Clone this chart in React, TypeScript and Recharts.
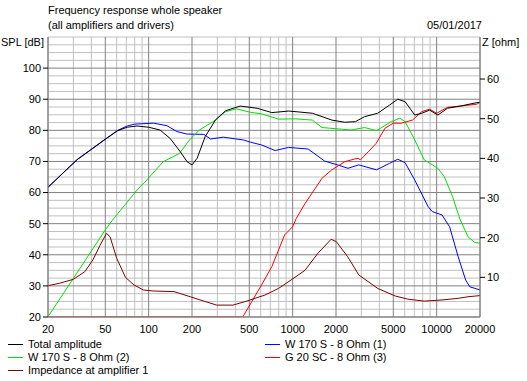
import React from 'react';
import { LineChart, Line, XAxis, YAxis, ReferenceLine, Legend } from 'recharts';

const FONT = "'Liberation Sans', Arial, sans-serif";
const FS = 11;

// ---- axis ticks / grid values ----
const freqTicks = [20, 50, 100, 200, 500, 1000, 2000, 5000, 10000, 20000];
const freqMinor = [30, 40, 60, 70, 80, 90, 300, 400, 600, 700, 800, 900, 3000, 4000, 6000, 7000, 8000, 9000];
const splTicks = [20, 30, 40, 50, 60, 70, 80, 90, 100];
const splMinor = [22.5, 25, 27.5, 32.5, 35, 37.5, 42.5, 45, 47.5, 52.5, 55, 57.5, 62.5, 65, 67.5, 72.5, 75, 77.5, 82.5, 85, 87.5, 92.5, 95, 97.5, 102.5, 105, 107.5, 110];
const zTicks = [10, 20, 30, 40, 50, 60];

// ---- series ----
const totalFreq = [20, 31.8, 50, 61, 71, 83, 100, 120, 141, 166, 185, 200, 217, 247, 291, 342, 432, 567, 717, 939, 1370, 1870, 2300, 2730, 3160, 3900, 4700, 5370, 6040, 7050, 7880, 8940, 10200, 11900, 14600, 19000, 20000];
const totalDb = [61.7, 70.5, 77.1, 79.9, 81.0, 81.4, 81.0, 80.1, 77.4, 73.1, 69.9, 68.9, 71.0, 78.0, 83.3, 86.3, 87.8, 87.1, 85.7, 86.2, 85.5, 83.3, 82.6, 82.8, 84.4, 85.5, 88.1, 90.0, 89.2, 84.9, 85.5, 86.5, 84.9, 87.1, 87.8, 88.9, 89.0];

const woofer1Freq = [20, 31.8, 50, 61, 71, 80, 108, 134, 157, 185, 242, 269, 330, 455, 509, 608, 756, 935, 1280, 1670, 2050, 2420, 2880, 3820, 4710, 5370, 6040, 7050, 8720, 9300, 10900, 12300, 14100, 15900, 17000, 20000];
const woofer1Db = [61.7, 70.6, 77.2, 80.0, 81.4, 82.0, 82.3, 81.5, 79.6, 78.8, 78.7, 77.2, 77.8, 76.9, 76.2, 75.3, 73.5, 74.5, 74.0, 70.1, 68.9, 67.8, 68.9, 67.3, 69.4, 70.7, 69.6, 64.0, 55.5, 53.9, 52.8, 49.0, 39.4, 31.9, 29.7, 28.7];

const woofer2Freq = [20, 30, 50, 56, 83, 97, 126, 164, 192, 225, 280, 342, 408, 509, 608, 797, 1040, 1370, 1600, 2550, 3160, 3820, 4850, 5550, 6040, 7050, 8200, 10200, 11300, 12900, 14500, 16500, 18300, 20000];
const woofer2Db = [20.1, 32.4, 48.0, 51.1, 60.8, 64.0, 69.9, 72.6, 76.9, 80.1, 82.8, 86.0, 86.9, 85.8, 85.3, 83.6, 83.7, 83.3, 80.9, 80.1, 80.9, 79.9, 82.8, 83.9, 82.8, 76.9, 70.5, 67.8, 65.1, 58.7, 51.5, 45.8, 44.0, 43.7];

const tweeterFreq = [20, 450, 608, 717, 880, 1000, 1060, 1220, 1600, 1870, 2300, 2700, 2850, 2950, 3350, 3800, 4380, 5000, 5700, 6800, 7880, 8940, 10000, 11900, 14600, 19000, 20000];
const tweeterDb = [20, 20, 30.3, 36.2, 46.4, 49.0, 51.7, 56.5, 64.6, 67.3, 69.9, 70.8, 71.0, 70.5, 73.1, 75.8, 80.7, 82.3, 82.3, 83.3, 86.0, 86.8, 85.5, 87.4, 87.8, 88.4, 89.0];

const impFreq = [20, 24, 30, 36, 41, 46, 51, 54, 60, 69, 79, 92, 108, 150, 195, 242, 297, 385, 480, 567, 640, 797, 1000, 1220, 1500, 1850, 2010, 2410, 2880, 3900, 5150, 6300, 8200, 10900, 14100, 16500, 20000];
const impOhm = [7.9, 8.5, 9.5, 11.4, 14.4, 18.1, 21.1, 20.2, 14.8, 10.0, 8.1, 6.8, 6.55, 6.4, 5.1, 4.0, 3.0, 3.0, 4.0, 4.9, 5.5, 7.2, 9.6, 11.8, 16.1, 19.6, 19.0, 15.2, 10.6, 7.2, 5.3, 4.5, 4.0, 4.3, 4.7, 5.1, 5.4];

const seriesNames = [
  'Total amplitude',
  'W 170 S - 8 Ohm (1)',
  'W 170 S - 8 Ohm (2)',
  'G 20 SC - 8 Ohm (3)',
  'Impedance at amplifier 1',
];
const seriesColors = ['#000000', '#0000ff', '#00e000', '#ff0000', '#800000'];

const zip = (fs: number[], vs: number[]) => fs.map((f, i) => ({ f, v: vs[i] }));

const totalData = zip(totalFreq, totalDb);
const woofer1Data = zip(woofer1Freq, woofer1Db);
const woofer2Data = zip(woofer2Freq, woofer2Db);
const tweeterData = zip(tweeterFreq, tweeterDb);
const impData = zip(impFreq, impOhm);

const MINOR = '#c0c0c0';
const MAJOR = '#808080';

const LegendContent = (props: any) => {
  const payload: any[] = (props.payload || []).slice();
  payload.sort((a, b) => seriesNames.indexOf(a.value) - seriesNames.indexOf(b.value));
  return (
    <div
      style={{
        display: 'grid',
        gridTemplateColumns: '257px 250px',
        paddingLeft: 8,
        fontFamily: FONT,
        fontSize: FS,
        lineHeight: '13px',
        color: '#000',
      }}
    >
      {payload.map((p) => {
        const idx = seriesNames.indexOf(p.value);
        const c = idx >= 0 ? seriesColors[idx] : p.color;
        return (
          <div key={p.value} style={{ display: 'flex', alignItems: 'center', height: 13, lineHeight: '13px', whiteSpace: 'nowrap' }}>
            <span style={{ display: 'inline-block', width: 15, height: 0, borderTop: `1px solid ${c}`, marginRight: 5 }} />
            <span>{p.value}</span>
          </div>
        );
      })}
    </div>
  );
};

const textStyle: React.CSSProperties = {
  position: 'absolute',
  fontFamily: FONT,
  fontSize: FS,
  lineHeight: '15px',
  color: '#000',
  whiteSpace: 'nowrap',
};

export default function App() {
  const tickStyle = { fill: '#000', fontSize: FS, fontFamily: FONT };
  return (
    <div style={{ position: 'absolute', left: 0, top: 0, width: 527, height: 381, background: '#fff', overflow: 'hidden' }}>
      <div style={{ ...textStyle, left: 48, top: 3 }}>Frequency response whole speaker</div>
      <div style={{ ...textStyle, left: 48, top: 18 }}>(all amplifiers and drivers)</div>
      <div style={{ ...textStyle, left: 1, top: 35 }}>SPL [dB]</div>
      <div style={{ ...textStyle, right: 45, top: 18 }}>05/01/2017</div>
      <div style={{ ...textStyle, left: 482, top: 35 }}>Z [ohm]</div>
      <LineChart width={527} height={381} margin={{ top: 37, right: 0, bottom: 44, left: 0 }}>
        <XAxis
          dataKey="f"
          type="number"
          scale="log"
          domain={[20, 20000]}
          ticks={freqTicks}
          allowDataOverflow
          height={20}
          tickLine={false}
          tickSize={5}
          tickMargin={3}
          axisLine={{ stroke: MAJOR }}
          tick={tickStyle}
          interval={0}
        />
        <YAxis
          yAxisId="spl"
          type="number"
          domain={[20, 110]}
          ticks={splTicks}
          allowDataOverflow
          width={48}
          tickSize={5}
          tickMargin={2}
          tickLine={{ stroke: '#000' }}
          axisLine={{ stroke: MAJOR }}
          tick={tickStyle}
          interval={0}
        />
        <YAxis
          yAxisId="z"
          orientation="right"
          type="number"
          domain={[0, 70.6]}
          ticks={zTicks}
          allowDataOverflow
          width={47}
          tickSize={5}
          tickMargin={2}
          tickLine={{ stroke: '#000' }}
          axisLine={{ stroke: MAJOR }}
          tick={tickStyle}
          interval={0}
        />
        {splMinor.map((v) => (
          <ReferenceLine key={'hm' + v} yAxisId="spl" y={v} stroke={MINOR} strokeWidth={1} zIndex={-100} />
        ))}
        {freqMinor.map((v) => (
          <ReferenceLine key={'vm' + v} yAxisId="spl" x={v} stroke={MINOR} strokeWidth={1} zIndex={-100} />
        ))}
        {splTicks.map((v) => (
          <ReferenceLine key={'hM' + v} yAxisId="spl" y={v} stroke={MAJOR} strokeWidth={1} zIndex={-90} />
        ))}
        {freqTicks.map((v) => (
          <ReferenceLine key={'vM' + v} yAxisId="spl" x={v} stroke={MAJOR} strokeWidth={1} zIndex={-90} />
        ))}
        <Line data={woofer1Data} yAxisId="spl" dataKey="v" name={seriesNames[1]} stroke={seriesColors[1]} strokeWidth={1} dot={false} activeDot={false} isAnimationActive={false} />
        <Line data={woofer2Data} yAxisId="spl" dataKey="v" name={seriesNames[2]} stroke={seriesColors[2]} strokeWidth={1} dot={false} activeDot={false} isAnimationActive={false} />
        <Line data={tweeterData} yAxisId="spl" dataKey="v" name={seriesNames[3]} stroke={seriesColors[3]} strokeWidth={1} dot={false} activeDot={false} isAnimationActive={false} />
        <Line data={impData} yAxisId="z" dataKey="v" name={seriesNames[4]} stroke={seriesColors[4]} strokeWidth={1} dot={false} activeDot={false} isAnimationActive={false} />
        <Line data={totalData} yAxisId="spl" dataKey="v" name={seriesNames[0]} stroke={seriesColors[0]} strokeWidth={1} dot={false} activeDot={false} isAnimationActive={false} />
        <Legend
          layout="horizontal"
          verticalAlign="middle"
          align="center"
          wrapperStyle={{ left: 0, top: 338, width: 527 }}
          content={<LegendContent />}
        />
      </LineChart>
    </div>
  );
}
